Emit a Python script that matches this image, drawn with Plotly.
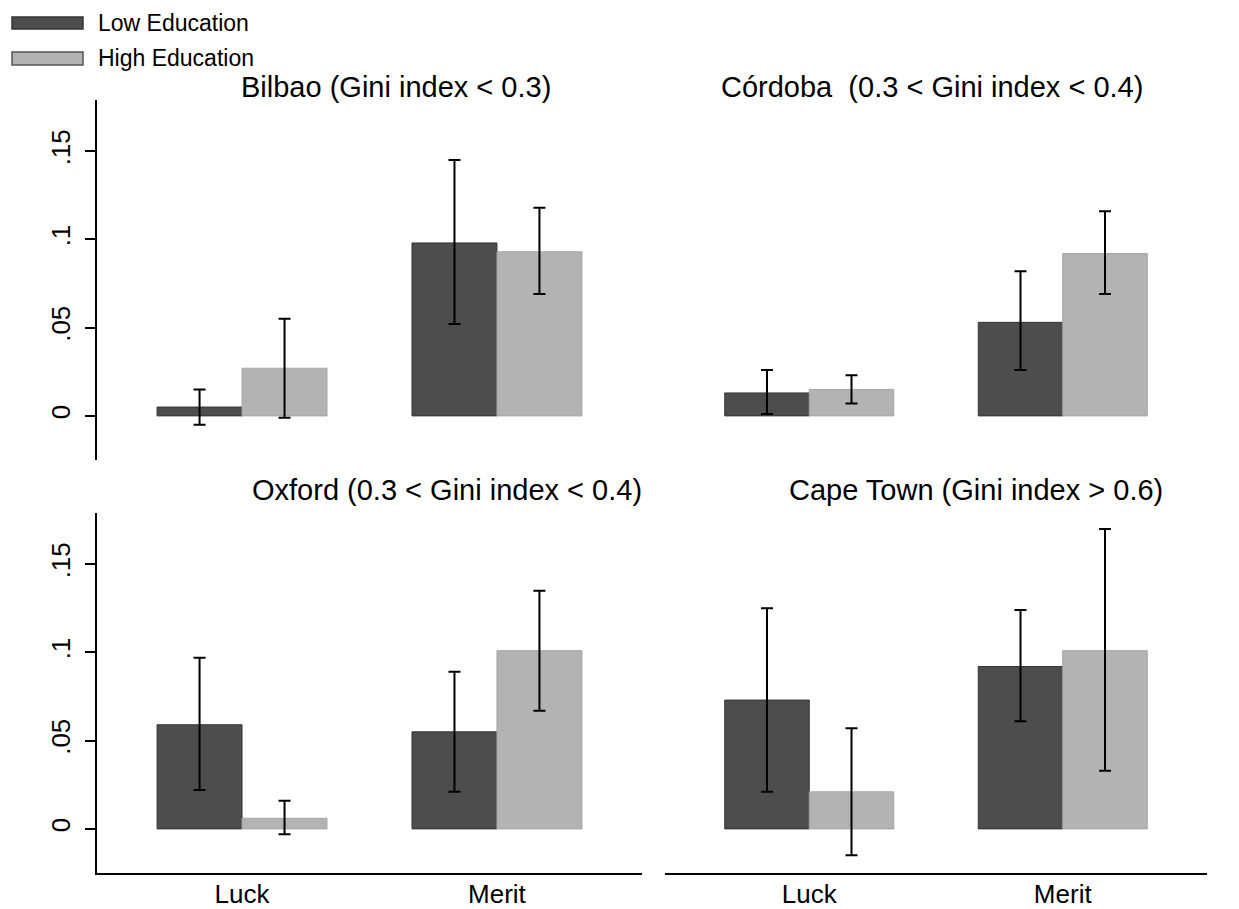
import plotly.graph_objects as go

# ---------------- data ----------------
categories = ["Luck", "Merit"]
panel_titles = [
    "Bilbao (Gini index < 0.3)",
    "Córdoba  (0.3 < Gini index < 0.4)",
    "Oxford (0.3 < Gini index < 0.4)",
    "Cape Town (Gini index > 0.6)",
]
series_names = ["Low Education", "High Education"]

# per city: [Luck, Merit]
low_mean = [[0.005, 0.098], [0.013, 0.053], [0.059, 0.055], [0.073, 0.092]]
low_lo = [[-0.005, 0.052], [0.001, 0.026], [0.022, 0.021], [0.021, 0.061]]
low_hi = [[0.015, 0.145], [0.026, 0.082], [0.097, 0.089], [0.125, 0.124]]
high_mean = [[0.027, 0.093], [0.015, 0.092], [0.006, 0.101], [0.021, 0.101]]
high_lo = [[-0.001, 0.069], [0.007, 0.069], [-0.003, 0.067], [-0.015, 0.033]]
high_hi = [[0.055, 0.118], [0.023, 0.116], [0.016, 0.135], [0.057, 0.170]]

y_tickvals = [0, 0.05, 0.1, 0.15]
y_ticktext = ["0", ".05", ".1", ".15"]

# ---------------- layout helpers ----------------
PAGE_W, PAGE_H = 1239, 909
OFF = 8  # default page body margin
W, H = PAGE_W - OFF, PAGE_H - OFF
FONT = "Liberation Sans, Arial, sans-serif"
DARK = "#4d4d4d"
DARK_LINE = "#363636"
LIGHT = "#b3b3b3"
LIGHT_LINE = "#a6a6a6"


def fx(p):
    return (p - OFF) / W


def fy(p):
    return 1 - (p - OFF) / H


x_domains = [[fx(97), fx(642)], [fx(665), fx(1207)]]
y_domains = [[fy(460), fy(100)], [fy(873), fy(513)]]
x_range = [-0.569, 1.569]
y_range = [-0.025, 0.179]

# panel centre (px) for titles
title_pos = [(396, 87), (932, 87), (447, 490), (976, 490)]

fig = go.Figure()

for i in range(4):
    suffix = "" if i == 0 else str(i + 1)
    xcats = list(range(len(categories)))
    for name, mean, lo, hi, fill, line in [
        (series_names[0], low_mean[i], low_lo[i], low_hi[i], DARK, DARK_LINE),
        (series_names[1], high_mean[i], high_lo[i], high_hi[i], LIGHT, LIGHT_LINE),
    ]:
        fig.add_trace(
            go.Bar(
                x=xcats,
                y=mean,
                name=name,
                showlegend=False,
                xaxis="x" + suffix,
                yaxis="y" + suffix,
                marker=dict(color=fill, line=dict(color=line, width=1)),
                error_y=dict(
                    type="data",
                    symmetric=False,
                    array=[h - m for h, m in zip(hi, mean)],
                    arrayminus=[m - l for m, l in zip(mean, lo)],
                    color="black",
                    thickness=2,
                    width=6,
                ),
            )
        )

layout_axes = {}
for i in range(4):
    suffix = "" if i == 0 else str(i + 1)
    col = i % 2
    row = i // 2
    bottom = row == 1
    left = col == 0
    layout_axes["xaxis" + suffix] = dict(
        domain=x_domains[col],
        range=x_range,
        anchor="y" + suffix,
        automargin=False,
        tickvals=list(range(len(categories))),
        ticktext=categories,
        showticklabels=bottom,
        showline=bottom,
        linecolor="black",
        linewidth=2,
        ticks="",
        showgrid=False,
        zeroline=False,
        tickfont=dict(family=FONT, size=26, color="black"),
        ticklabelstandoff=-3,
    )
    layout_axes["yaxis" + suffix] = dict(
        domain=y_domains[row],
        range=y_range,
        anchor="x" + suffix,
        automargin=False,
        tickvals=y_tickvals,
        ticktext=y_ticktext,
        showticklabels=left,
        showline=left,
        linecolor="black",
        linewidth=2,
        ticks="outside" if left else "",
        ticklen=10,
        tickwidth=2,
        tickcolor="black",
        tickangle=-90,
        showgrid=False,
        zeroline=False,
        tickfont=dict(family=FONT, size=26, color="black"),
        ticklabelstandoff=5,
    )

annotations = []
for t, (px, py) in zip(panel_titles, title_pos):
    annotations.append(
        dict(
            text=t,
            x=fx(px),
            y=fy(py),
            xref="paper",
            yref="paper",
            xanchor="center",
            yanchor="middle",
            showarrow=False,
            font=dict(family=FONT, size=29, color="black"),
        )
    )

# legend (drawn manually to match the wide swatches)
legend_rows = [(series_names[0], DARK, DARK_LINE, 17, 29), (series_names[1], LIGHT, "#555555", 52, 65)]
shapes = []
for name, fill, line, y0, y1 in legend_rows:
    shapes.append(
        dict(
            type="rect",
            xref="paper",
            yref="paper",
            x0=fx(12),
            x1=fx(83),
            y0=fy(y1),
            y1=fy(y0),
            fillcolor=fill,
            line=dict(color=line, width=1.5),
        )
    )
    annotations.append(
        dict(
            text=name,
            x=fx(96),
            y=fy((y0 + y1) / 2),
            xref="paper",
            yref="paper",
            xanchor="left",
            yanchor="middle",
            showarrow=False,
            font=dict(family=FONT, size=23, color="black"),
        )
    )

fig.update_layout(
    width=W,
    height=H,
    margin=dict(l=0, r=0, t=0, b=0),
    paper_bgcolor="white",
    plot_bgcolor="white",
    barmode="group",
    bargap=1 / 3,
    bargroupgap=0,
    showlegend=False,
    annotations=annotations,
    shapes=shapes,
    font=dict(family=FONT, color="black"),
    **layout_axes,
)

fig.write_html("out.html")
